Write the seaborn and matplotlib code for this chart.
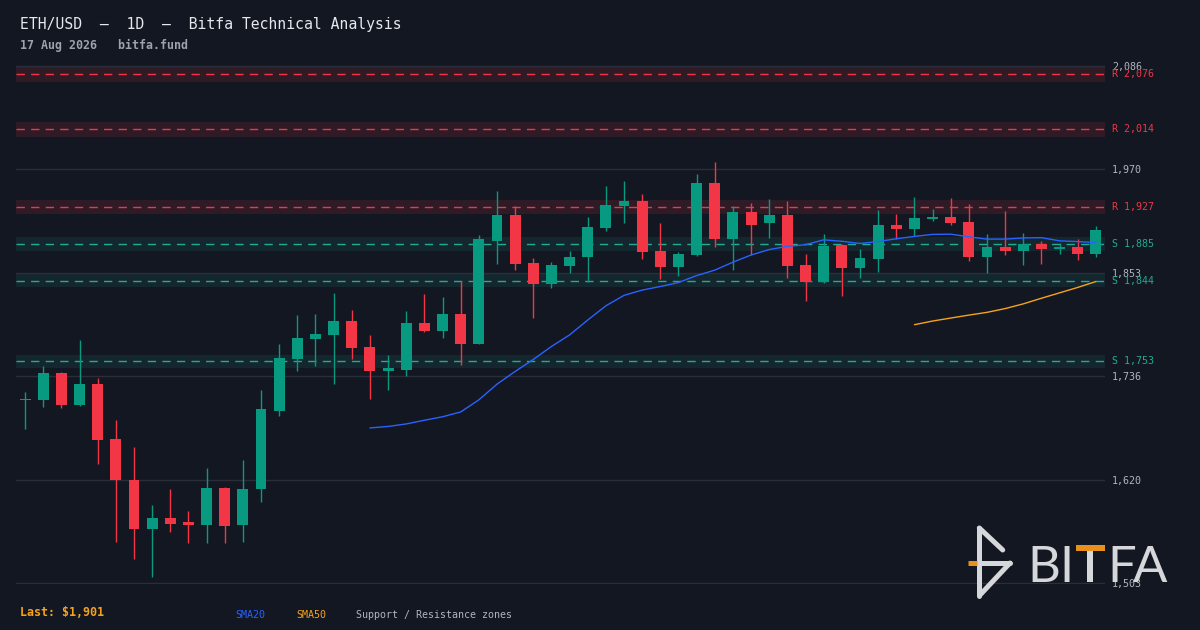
import numpy as np
import pandas as pd
import matplotlib
matplotlib.use("Agg")
import matplotlib.pyplot as plt
import seaborn as sns
from matplotlib.lines import Line2D
from matplotlib.patches import Rectangle

# ---------------- data ----------------
opens = [1709, 1710, 1740, 1704, 1727, 1666, 1620, 1564, 1577, 1572,
         1569, 1611, 1569, 1609, 1697, 1756, 1778, 1783, 1798, 1769,
         1742, 1743, 1796, 1787, 1806, 1773, 1889, 1918, 1864, 1840,
         1860, 1870, 1903, 1928, 1934, 1877, 1859, 1873, 1954, 1891,
         1921, 1909, 1918, 1861, 1842, 1884, 1858, 1868, 1907, 1902,
         1913, 1916, 1910, 1870, 1882, 1877, 1885, 1879, 1882, 1874]
highs = [1718, 1748, 1741, 1777, 1734, 1687, 1657, 1591, 1609, 1585,
         1633, 1612, 1642, 1721, 1773, 1805, 1806, 1830, 1811, 1783,
         1760, 1810, 1829, 1825, 1843, 1895, 1945, 1928, 1869, 1865,
         1877, 1916, 1950, 1956, 1941, 1909, 1876, 1964, 1977, 1928,
         1931, 1936, 1934, 1874, 1896, 1885, 1880, 1923, 1919, 1938,
         1925, 1937, 1930, 1896, 1922, 1898, 1889, 1886, 1891, 1905]
lows = [1677, 1702, 1701, 1703, 1638, 1550, 1531, 1510, 1561, 1548,
        1549, 1548, 1550, 1595, 1692, 1742, 1748, 1728, 1756, 1711,
        1721, 1736, 1786, 1779, 1749, 1772, 1863, 1856, 1802, 1836,
        1852, 1842, 1900, 1909, 1868, 1846, 1849, 1872, 1882, 1856,
        1873, 1892, 1847, 1821, 1841, 1827, 1847, 1854, 1891, 1894,
        1911, 1906, 1866, 1852, 1873, 1861, 1863, 1874, 1867, 1870]
closes = [1711, 1740, 1704, 1727, 1665, 1619, 1564, 1577, 1570, 1569,
          1611, 1568, 1609, 1699, 1757, 1779, 1784, 1798, 1768, 1742,
          1745, 1796, 1787, 1806, 1773, 1891, 1918, 1863, 1840, 1861,
          1871, 1904, 1929, 1934, 1876, 1859, 1874, 1954, 1891, 1921,
          1907, 1918, 1860, 1842, 1883, 1858, 1869, 1907, 1902, 1914,
          1916, 1909, 1870, 1882, 1877, 1885, 1880, 1882, 1874, 1901]

zone_levels = [2076, 2014, 1927, 1885, 1844, 1753]
zone_kinds = ["R", "R", "R", "S", "S", "S"]
zone_halfwidth_frac = 0.0042

y_ticks = [1503, 1620, 1736, 1853, 1970, 2086]
y_tick_labels = ["1,503", "1,620", "1,736", "1,853", "1,970", "2,086"]

title_text = "ETH/USD  \u2014  1D  \u2014  Bitfa Technical Analysis"
subtitle_text = "17 Aug 2026   bitfa.fund"
last_text = "Last: $1,901"
legend_texts = ["SMA20", "SMA50", "Support / Resistance zones"]
brand_letters = ["B", "I", "F", "A"]

# ---------------- style ----------------
BG = "#131722"
GRID = "#2a2e39"
GREEN = "#089981"
RED = "#f23645"
S_COL = "#22ab94"
BLUE = "#2962ff"
ORANGE = "#f7a21b"
TXT = "#b2b5be"

sns.set_theme(style="dark", rc={
    "axes.facecolor": BG, "figure.facecolor": BG,
    "axes.edgecolor": BG, "grid.color": GRID,
})
plt.rcParams["font.family"] = ["DejaVu Sans Mono", "DejaVu Sans"]

W, H = 1200, 630
fig = plt.figure(figsize=(12, 6.3), dpi=100)
ax = fig.add_axes([16 / W, 1 - 584 / H, (1105 - 16) / W, (584 - 65) / H])
ax.set_facecolor(BG)

df = pd.DataFrame({"open": opens, "high": highs, "low": lows, "close": closes})
df["idx"] = np.arange(len(df))
df["sma20"] = df["close"].rolling(20).mean()
df["sma50"] = df["close"].rolling(50).mean()

# zones
for lvl, kind in zip(zone_levels, zone_kinds):
    hw = lvl * zone_halfwidth_frac
    col = RED if kind == "R" else S_COL
    ax.axhspan(lvl - hw, lvl + hw, color=col, alpha=0.13 if kind == "R" else 0.11,
               lw=0, zorder=1)
    ax.axhline(lvl, color=col, lw=1.0, linestyle=(0, (6, 4.5)), zorder=2)
    ax.annotate(f"{kind} {lvl:,}", xy=(1, lvl), xycoords=("axes fraction", "data"),
                xytext=(5, 0), textcoords="offset points", va="center", ha="left",
                color=col, fontsize=7.2, annotation_clip=False)

# grid
ax.set_ylim(1502.4, 2086.6)
ax.set_xlim(-0.5, len(df) - 0.5)
ax.set_yticks(y_ticks)
ax.set_yticklabels(y_tick_labels)
ax.yaxis.tick_right()
ax.tick_params(axis="y", length=0, pad=5, labelsize=7.2, labelcolor=TXT)
ax.set_xticks([])
ax.grid(axis="y", color=GRID, lw=1.0, zorder=0)
ax.grid(axis="x", visible=False)
ax.set_axisbelow(True)
for sp in ax.spines.values():
    sp.set_visible(False)

# candles
up = df["close"] >= df["open"]
cols = np.where(up, GREEN, RED)
ax.vlines(df["idx"], df["low"], df["high"], colors=cols, lw=1.0, zorder=3)
body_bottom = np.minimum(df["open"], df["close"])
body_h = np.maximum(np.abs(df["close"] - df["open"]), 1.6)
ax.bar(df["idx"], body_h, bottom=body_bottom, width=0.6, color=cols, lw=0, zorder=4)

# moving averages
d20 = df.dropna(subset=["sma20"])
d50 = df.dropna(subset=["sma50"])
sns.lineplot(data=d20, x="idx", y="sma20", ax=ax, color=BLUE, lw=1.0, zorder=5)
sns.lineplot(data=d50, x="idx", y="sma50", ax=ax, color=ORANGE, lw=1.0, zorder=5)
ax.set_xlabel("")
ax.set_ylabel("")

# texts
def fx(x):
    return x / W

def fy(y):
    return 1 - y / H

fig.text(fx(20), fy(29.5), title_text, fontsize=10.6, color="#e6e8ee", va="baseline")
fig.text(fx(20), fy(49.3), subtitle_text, fontsize=8.4, color="#9ea2ab",
         fontweight="bold", va="baseline")
fig.text(fx(20), fy(612.5), last_text, fontsize=8.4, color=ORANGE,
         fontweight="bold", va="center", parse_math=False)
for xpos, txt, col in zip([235.4, 296, 355.5], legend_texts, [BLUE, ORANGE, TXT]):
    fig.text(fx(xpos), fy(615), txt, fontsize=7.2, color=col, va="center")

# watermark logo
LOGO = "#d6d7db"
LOGO_OR = "#e8901a"
segs = [((979.3, 528), (979.3, 596)),
        ((979.3, 528), (1002.7, 550)),
        ((977, 563), (1010, 563)),
        ((1010, 563), (980, 595))]
for (x0, y0), (x1, y1) in segs:
    fig.add_artist(Line2D([fx(x0), fx(x1)], [fy(y0), fy(y1)], transform=fig.transFigure,
                          color=LOGO, lw=3.6, solid_capstyle="round", zorder=10))
fig.add_artist(Line2D([fx(968), fx(977)], [fy(563), fy(563)], transform=fig.transFigure,
                      color=LOGO_OR, lw=3.6, solid_capstyle="butt", zorder=10))
for cx, letter in zip([1043.5, 1066, 1122, 1150.5], brand_letters):
    fig.text(fx(cx), fy(581.7), letter, fontsize=36.6, family=["Lato", "DejaVu Sans"],
             color=LOGO, va="baseline", ha="center", zorder=10)
# the T: orange bar + grey stem
fig.add_artist(Rectangle((fx(1076), fy(550.5)), 29 / W, 5.5 / H, transform=fig.transFigure,
                         color=LOGO_OR, lw=0, zorder=11))
fig.add_artist(Rectangle((fx(1087), fy(581.7)), 6 / W, 31.2 / H, transform=fig.transFigure,
                         color=LOGO, lw=0, zorder=11))

fig.savefig("out.png", dpi=100, facecolor=BG)
